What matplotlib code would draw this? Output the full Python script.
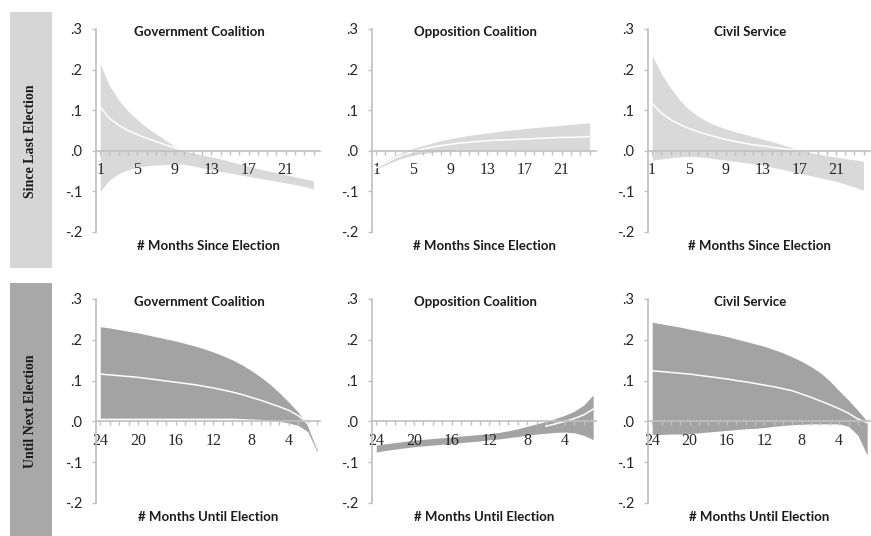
import numpy as np
import matplotlib
matplotlib.use("Agg")
import matplotlib.pyplot as plt
from matplotlib.patches import Rectangle

# months
since_months = list(range(1, 25))
until_months = list(range(24, 0, -1))

# --- Since last election (x = 1..24) ---
gov_since_up = [0.215, 0.160, 0.125, 0.098, 0.077, 0.058, 0.042, 0.027, 0.012, 0.000,
                -0.005, -0.010, -0.015, -0.020, -0.026, -0.032, -0.038, -0.044, -0.049, -0.054,
                -0.059, -0.064, -0.069, -0.074]
gov_since_lo = [-0.100, -0.072, -0.056, -0.047, -0.041, -0.037, -0.035, -0.034, -0.033, -0.033,
                -0.037, -0.042, -0.047, -0.051, -0.055, -0.059, -0.063, -0.067, -0.071, -0.075,
                -0.079, -0.083, -0.088, -0.094]
gov_since_mean = [0.108, 0.080, 0.063, 0.050, 0.040, 0.031, 0.023, 0.015, 0.008, 0.001]

opp_since_up = [-0.040, -0.025, -0.012, -0.002, 0.006, 0.013, 0.019, 0.025, 0.030, 0.034,
                0.038, 0.041, 0.044, 0.047, 0.050, 0.052, 0.055, 0.057, 0.059, 0.061,
                0.063, 0.065, 0.067, 0.069]
opp_since_lo = [-0.045, -0.035, -0.025, -0.017, -0.011, -0.007, -0.004, -0.002, -0.001, 0.000,
                0.000, 0.001, 0.001, 0.001, 0.001, 0.002, 0.002, 0.002, 0.002, 0.002,
                0.002, 0.002, 0.002, 0.002]
opp_since_mean = [-0.042, -0.030, -0.018, -0.009, -0.002, 0.004, 0.009, 0.013, 0.016, 0.019,
                  0.021, 0.023, 0.025, 0.026, 0.027, 0.028, 0.029, 0.030, 0.031, 0.032,
                  0.033, 0.033, 0.034, 0.035]

civ_since_up = [0.235, 0.190, 0.155, 0.125, 0.102, 0.085, 0.072, 0.062, 0.054, 0.047,
                0.041, 0.035, 0.029, 0.023, 0.016, 0.009, 0.002, -0.003, -0.008, -0.012,
                -0.015, -0.019, -0.022, -0.026]
civ_since_lo = [-0.023, -0.020, -0.017, -0.015, -0.014, -0.015, -0.017, -0.020, -0.023, -0.026,
                -0.029, -0.032, -0.035, -0.040, -0.045, -0.050, -0.055, -0.060, -0.065, -0.070,
                -0.075, -0.082, -0.089, -0.097]
civ_since_mean = [0.117, 0.093, 0.077, 0.065, 0.055, 0.047, 0.040, 0.034, 0.028, 0.023,
                  0.019, 0.015, 0.012, 0.009, 0.006, 0.003, 0.001]

# --- Until next election (x = 24..1) ---
gov_until_up = [0.232, 0.229, 0.225, 0.221, 0.217, 0.212, 0.207, 0.202, 0.197, 0.191,
                0.185, 0.178, 0.170, 0.161, 0.151, 0.139, 0.125, 0.109, 0.091, 0.070,
                0.047, 0.022, -0.010, -0.060]
gov_until_lo = [0.008, 0.008, 0.008, 0.008, 0.008, 0.008, 0.008, 0.008, 0.008, 0.008,
                0.008, 0.008, 0.008, 0.008, 0.008, 0.007, 0.006, 0.005, 0.003, 0.000,
                -0.004, -0.010, -0.025, -0.075]
gov_until_mean = [0.116, 0.114, 0.112, 0.110, 0.108, 0.105, 0.102, 0.099, 0.096, 0.093,
                  0.090, 0.086, 0.082, 0.077, 0.072, 0.066, 0.059, 0.052, 0.044, 0.036,
                  0.027, 0.014, -0.005, -0.065]

opp_until_up = [-0.058, -0.055, -0.052, -0.049, -0.046, -0.044, -0.042, -0.040, -0.038, -0.036,
                -0.034, -0.032, -0.030, -0.027, -0.023, -0.018, -0.012, -0.006, 0.000, 0.007,
                0.015, 0.025, 0.040, 0.065]
opp_until_lo = [-0.075, -0.071, -0.068, -0.065, -0.062, -0.060, -0.058, -0.056, -0.054, -0.052,
                -0.050, -0.048, -0.045, -0.043, -0.040, -0.037, -0.034, -0.031, -0.029, -0.027,
                -0.026, -0.028, -0.034, -0.045]
opp_until_mean = [-0.012, -0.006, 0.000, 0.007, 0.016, 0.030]  # months 6..1

civ_until_up = [0.243, 0.239, 0.235, 0.231, 0.226, 0.222, 0.217, 0.213, 0.208, 0.202,
                0.196, 0.190, 0.184, 0.176, 0.168, 0.158, 0.147, 0.134, 0.119, 0.099,
                0.075, 0.052, 0.027, 0.000]
civ_until_lo = [-0.032, -0.032, -0.031, -0.031, -0.030, -0.028, -0.026, -0.024, -0.022, -0.020,
                -0.018, -0.017, -0.015, -0.012, -0.010, -0.008, -0.007, -0.006, -0.006, -0.006,
                -0.006, -0.012, -0.034, -0.083]
civ_until_mean = [0.124, 0.122, 0.120, 0.118, 0.116, 0.113, 0.110, 0.107, 0.104, 0.100,
                  0.097, 0.093, 0.089, 0.085, 0.080, 0.075, 0.067, 0.059, 0.050, 0.041,
                  0.031, 0.020, 0.006, -0.003]

titles = ["Government Coalition", "Opposition Coalition", "Civil Service"]
yticks = [-0.2, -0.1, 0.0, 0.1, 0.2, 0.3]
ytick_labels = ["-.2", "-.1", ".0", ".1", ".2", ".3"]

W, H = 871, 536
fig = plt.figure(figsize=(W / 100, H / 100), dpi=100)

lefts = [96, 372, 648]
widths = [224, 224, 222]
row_y = [(29, 232), (299, 503)]  # top/bottom pixel of y-range (.3, -.2)

axis_col = "#bfbfbf"
text_col = "#262626"

top_data = [(gov_since_up, gov_since_lo, gov_since_mean),
            (opp_since_up, opp_since_lo, opp_since_mean),
            (civ_since_up, civ_since_lo, civ_since_mean)]
bot_data = [(gov_until_up, gov_until_lo, gov_until_mean),
            (opp_until_up, opp_until_lo, opp_until_mean),
            (civ_until_up, civ_until_lo, civ_until_mean)]

for r in range(2):
    top_px, bot_px = row_y[r]
    for c in range(3):
        ax = fig.add_axes([lefts[c] / W, 1 - bot_px / H, widths[c] / W, (bot_px - top_px) / H])
        if r == 0:
            up, lo, mean = top_data[c]
            x = since_months
            band_col = "#d9d9d9"
            ax.set_xlim(0.55, 24.7)
            lab_months = [1, 5, 9, 13, 17, 21]
            xlabel = "# Months Since Election"
            mx = x[:len(mean)]
        else:
            up, lo, mean = bot_data[c]
            x = until_months
            band_col = "#a3a3a3"
            ax.set_xlim(24.45, 0.7)
            lab_months = [24, 20, 16, 12, 8, 4]
            xlabel = "# Months Until Election"
            mx = x[len(x) - len(mean):]
        ax.fill_between(x, lo, up, color=band_col, lw=0, zorder=1)
        ax.plot(mx, mean, color="white", lw=1.1, zorder=2)
        ax.set_ylim(-0.2, 0.3)

        for s in ["top", "right"]:
            ax.spines[s].set_visible(False)
        ax.spines["left"].set_color(axis_col)
        ax.spines["bottom"].set_color(axis_col)
        ax.spines["left"].set_linewidth(1.2)
        ax.spines["bottom"].set_linewidth(1.2)
        ax.spines["bottom"].set_position(("data", 0))
        ax.spines["bottom"].set_zorder(3)

        ax.set_yticks(yticks)
        ax.set_yticklabels(ytick_labels, fontsize=10.5, color=text_col, family="Lato")
        ax.tick_params(axis="y", length=3, width=1, color=axis_col, pad=7)

        ax.set_xticks(x)
        ax.set_xticklabels([str(m) if m in lab_months else "" for m in x],
                           fontsize=11.5, color=text_col, family="Liberation Serif")
        ax.tick_params(axis="x", length=3, width=1, color=axis_col, pad=5)
        ax.patch.set_alpha(0)

        ax.text(0.46, 0.985, titles[c], transform=ax.transAxes, ha="center", va="center",
                fontsize=9.5, fontweight="bold", color="#1a1a1a", family="Lato")
        ax.text(0.5, -0.068, xlabel, transform=ax.transAxes, ha="center", va="center",
                fontsize=9.5, fontweight="bold", color="#1a1a1a", family="Lato")

# side strips
fig.patches.append(Rectangle((10 / W, 1 - 268 / H), 42 / W, 256 / H, transform=fig.transFigure,
                             facecolor="#d6d6d6", edgecolor="none", zorder=0))
fig.patches.append(Rectangle((10 / W, 0), 42 / W, 253 / H, transform=fig.transFigure,
                             facecolor="#a8a8a8", edgecolor="none", zorder=0))
fig.text(31 / W, 1 - 141 / H, "Since Last Election", rotation=90, ha="center", va="center",
         fontsize=10, fontweight="bold", family="Liberation Serif", color="#1a1a1a")
fig.text(31 / W, 1 - 411 / H, "Until Next Election", rotation=90, ha="center", va="center",
         fontsize=10, fontweight="bold", family="Liberation Serif", color="#1a1a1a")

fig.savefig("out.png", dpi=100)
